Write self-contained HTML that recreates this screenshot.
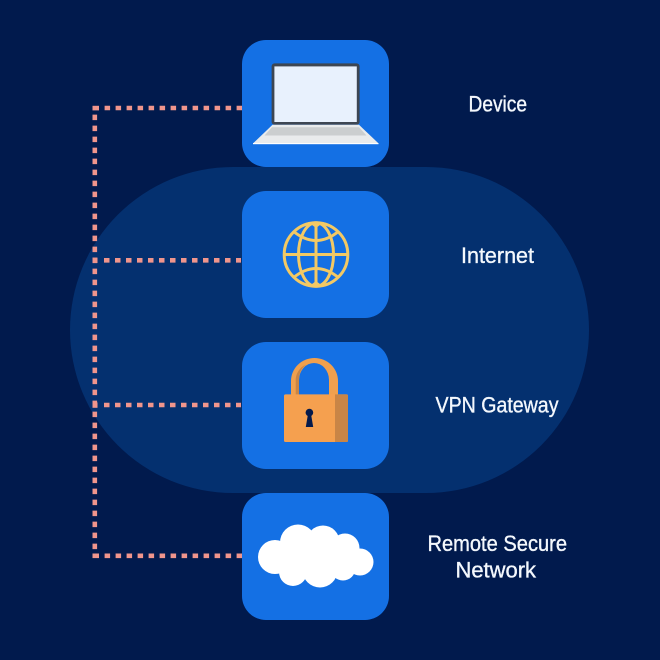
<!DOCTYPE html>
<html>
<head>
<meta charset="utf-8">
<style>
html,body{margin:0;padding:0;background:#011a4d;}
svg{display:block;}
text{font-family:"Liberation Sans",sans-serif;fill:#f4f8fd;font-size:22.5px;stroke:#f4f8fd;stroke-width:0.35px;}
</style>
</head>
<body>
<svg width="660" height="660" viewBox="0 0 660 660" xmlns="http://www.w3.org/2000/svg">
<rect width="660" height="660" fill="#011a4d"/>
<rect x="70" y="167" width="519" height="326" rx="163" fill="#04306f"/>

<!-- dotted connectors -->
<g stroke="#f0958c" stroke-width="4.6" fill="none" stroke-dasharray="5.5 5.5">
<line x1="94.8" y1="114.6" x2="94.8" y2="552"/>
<line x1="104.6" y1="108" x2="242" y2="108"/>
<line x1="104" y1="260.3" x2="241" y2="260.3"/>
<line x1="104" y1="405" x2="241" y2="405"/>
<line x1="104.6" y1="555.8" x2="242" y2="555.8"/>
</g>
<g fill="#f0958c">
<rect x="92.5" y="105.8" width="6.5" height="4.6"/>
<rect x="92.5" y="257.6" width="5" height="5.4"/>
<rect x="92.5" y="402.4" width="5" height="5.4"/>
<rect x="92.5" y="553.5" width="6.5" height="4.6"/>
</g>

<!-- nodes -->
<g fill="#1470e4">
<rect x="242" y="40" width="147" height="127" rx="24"/>
<rect x="242" y="191" width="147" height="127" rx="24"/>
<rect x="242" y="342" width="147" height="127" rx="24"/>
<rect x="242" y="493" width="147" height="127" rx="24"/>
</g>

<!-- laptop -->
<rect x="271.6" y="63.4" width="88" height="61.4" rx="3" fill="#3d4652"/>
<rect x="274.4" y="66.4" width="82.4" height="55.6" fill="#e8f1fd"/>
<polygon points="272.5,124.8 359,124.8 378.5,143.4 253,143.4" fill="#e9ebec"/>
<polygon points="272,127.2 359,127.2 366.5,135.5 264.5,135.5" fill="#cbcecf"/>
<rect x="253" y="143" width="125.5" height="1.2" fill="#fdfefe"/>

<!-- globe -->
<g fill="none" stroke="#f3c964" stroke-width="3">
<circle cx="316" cy="254.5" r="31.8"/>
<ellipse cx="316" cy="254.5" rx="17.5" ry="31.8"/>
<line x1="316" y1="222.5" x2="316" y2="286.5"/>
<line x1="284" y1="254.5" x2="348" y2="254.5"/>
<path d="M293 231 Q316 250 339 231"/>
<path d="M293 278 Q316 259 339 278"/>
</g>
<g fill="#f3c964">
<polygon points="308,222 324,222 316,228"/>
<polygon points="308,287 324,287 316,281"/>
</g>

<!-- lock -->
<path d="M291 396 V381 A23.5 23 0 0 1 338 381 V396 H329 V380 A15 17 0 0 0 299 380 V396 Z" fill="#f0a04e"/>
<path d="M295.7 396 V381 A17 17 0 0 1 306 364.6 A15 17 0 0 0 299 380 V396 Z" fill="#c98546"/>
<rect x="284" y="394.4" width="64" height="47.6" rx="1.5" fill="#f5a04f"/>
<path d="M335 394.4 H346.5 A1.5 1.5 0 0 1 348 396 V440.5 A1.5 1.5 0 0 1 346.5 442 H335 Z" fill="#c98546"/>
<circle cx="309.4" cy="412.6" r="3.8" fill="#051a4b"/>
<polygon points="308,414 311,414 313.2,427 305.8,427" fill="#051a4b"/>

<!-- cloud -->
<g fill="#ffffff">
<circle cx="275" cy="557" r="17"/>
<circle cx="298" cy="542.5" r="18"/>
<circle cx="323" cy="542" r="16.5"/>
<circle cx="345" cy="548" r="14.5"/>
<circle cx="360" cy="562" r="13.5"/>
<circle cx="343" cy="568" r="12.5"/>
<circle cx="320" cy="570" r="17.5"/>
<circle cx="293" cy="572" r="14"/>
<rect x="285" y="545" width="65" height="25"/>
</g>

<!-- labels -->
<text x="468.5" y="111.5" textLength="58.5" lengthAdjust="spacingAndGlyphs">Device</text>
<text x="461" y="263" textLength="73" lengthAdjust="spacingAndGlyphs">Internet</text>
<text x="435.5" y="412.7" textLength="123" lengthAdjust="spacingAndGlyphs">VPN Gateway</text>
<text x="427.5" y="551" textLength="139.5" lengthAdjust="spacingAndGlyphs">Remote Secure</text>
<text x="455.5" y="577.7" textLength="80.5" lengthAdjust="spacingAndGlyphs">Network</text>
</svg>
</body>
</html>
